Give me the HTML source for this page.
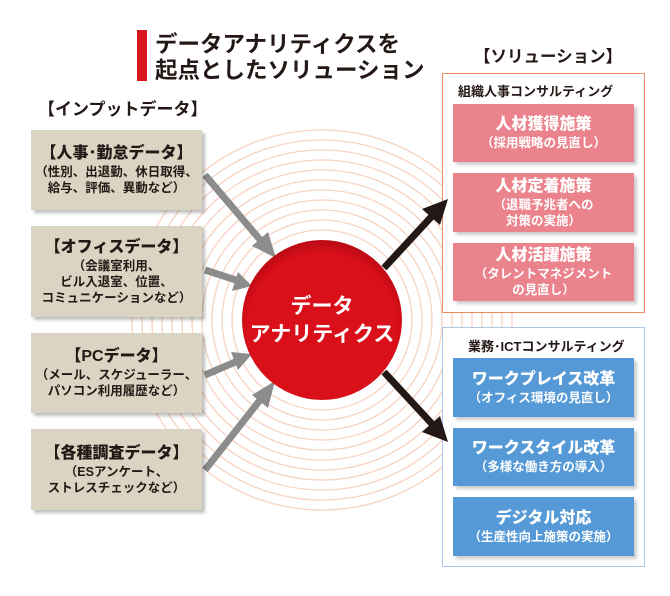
<!DOCTYPE html>
<html><head><meta charset="utf-8"><style>
body{margin:0;width:670px;height:596px;background:#fff;position:relative;overflow:hidden;font-family:"Liberation Sans","Noto Sans CJK JP",sans-serif;}
.a{position:absolute;}
.in{position:absolute;left:31px;width:171px;background:#dbd4c2;box-shadow:3px 3px 3px rgba(0,0,0,.25);text-align:center;color:#231815;font-weight:bold;display:flex;flex-direction:column;justify-content:center;}
.in b{font-size:16px;line-height:20px;}
.in span{font-size:12.5px;line-height:16px;}
.out{position:absolute;left:453px;width:181px;box-shadow:3px 3px 3px rgba(0,0,0,.2);text-align:center;color:#fff;font-weight:bold;display:flex;flex-direction:column;justify-content:center;}
.out b{font-size:16px;line-height:20px;}
.out span{font-size:12.5px;line-height:16px;}
.p{background:#eb838c;}
.bl{background:#559ad6;}
</style></head><body>
<svg class="a" style="left:0;top:0" width="670" height="596">
<g fill="none" stroke="#f7d3c0" stroke-width="1.3">
<circle cx="322" cy="320" r="90"/><circle cx="322" cy="320" r="100"/><circle cx="322" cy="320" r="110"/><circle cx="322" cy="320" r="120"/><circle cx="322" cy="320" r="130"/><circle cx="322" cy="320" r="140"/><circle cx="322" cy="320" r="150"/><circle cx="322" cy="320" r="160"/><circle cx="322" cy="320" r="170"/><circle cx="322" cy="320" r="180"/><circle cx="322" cy="320" r="190"/>
</g>
<rect x="137" y="30" width="10" height="51" fill="#d7161e"/>
<text x="155" y="52" font-size="22.5" font-weight="bold" fill="#231815">データアナリティクスを</text>
<text x="155" y="78" font-size="22.5" font-weight="bold" fill="#231815">起点としたソリューション</text>
<text x="38" y="115" font-size="17" font-weight="bold" fill="#231815">【インプットデータ】</text>
<text x="474" y="62" font-size="16.5" font-weight="bold" fill="#231815">【ソリューション】</text>
<rect x="442.5" y="73.5" width="202" height="239" fill="#fff" stroke="#ef8c63"/>
<rect x="442.5" y="327.5" width="202" height="239" fill="#fff" stroke="#a9c8ea"/>
<text x="458" y="96" font-size="13" font-weight="bold" fill="#231815">組織人事コンサルティング</text>
<text x="468" y="351" font-size="13" font-weight="bold" fill="#231815">業務･ICTコンサルティング</text>
<g stroke="#8c8c8c" stroke-width="7" fill="#8c8c8c">
<line x1="205" y1="175" x2="262" y2="242"/><polygon stroke="none" points="276,258 252,246 268,232"/>
<line x1="205" y1="270" x2="242" y2="282"/><polygon stroke="none" points="252,286 232,291 238,272"/>
<line x1="205" y1="375" x2="240" y2="360"/><polygon stroke="none" points="252,354 238,370 231,352"/>
<line x1="205" y1="470" x2="260" y2="400"/><polygon stroke="none" points="275,381 268,408 252,395"/>
</g>
<g stroke="#231815" stroke-width="7" fill="#231815">
<line x1="384" y1="268" x2="433" y2="215"/><polygon stroke="none" points="448,199 440,225 422,209"/>
<line x1="384" y1="372" x2="433" y2="425"/><polygon stroke="none" points="448,442 422,432 440,416"/>
</g>
<defs><radialGradient id="g" cx="50%" cy="55%" r="55%"><stop offset="85%" stop-color="#d90f1a"/><stop offset="100%" stop-color="#b80a14"/></radialGradient></defs>
<circle cx="322" cy="320" r="80" fill="url(#g)"/>
<text x="322" y="313" font-size="21" font-weight="bold" fill="#fff" text-anchor="middle">データ</text>
<text x="322" y="341" font-size="21" font-weight="bold" fill="#fff" text-anchor="middle">アナリティクス</text>
</svg>
<div class="in" style="top:130px;height:80px"><b>【人事･勤怠データ】</b><span>（性別、出退勤、休日取得、<br>給与、評価、異動など）</span></div>
<div class="in" style="top:226px;height:91px"><b>【オフィスデータ】</b><span>（会議室利用、<br>ビル入退室、位置、<br>コミュニケーションなど）</span></div>
<div class="in" style="top:333px;height:80px"><b>【PCデータ】</b><span>（メール、スケジューラー、<br>パソコン利用履歴など）</span></div>
<div class="in" style="top:429px;height:81px"><b>【各種調査データ】</b><span>（ESアンケート、<br>ストレスチェックなど）</span></div>
<div class="out p" style="top:104px;height:58px"><b>人材獲得施策</b><span>（採用戦略の見直し）</span></div>
<div class="out p" style="top:173px;height:59px"><b>人材定着施策</b><span>（退職予兆者への<br>対策の実施）</span></div>
<div class="out p" style="top:243px;height:58px"><b>人材活躍施策</b><span>（タレントマネジメント<br>の見直し）</span></div>
<div class="out bl" style="top:358px;height:59px"><b>ワークプレイス改革</b><span>（オフィス環境の見直し）</span></div>
<div class="out bl" style="top:428px;height:58px"><b>ワークスタイル改革</b><span>（多様な働き方の導入）</span></div>
<div class="out bl" style="top:497px;height:59px"><b>デジタル対応</b><span>（生産性向上施策の実施）</span></div>
</body></html>
